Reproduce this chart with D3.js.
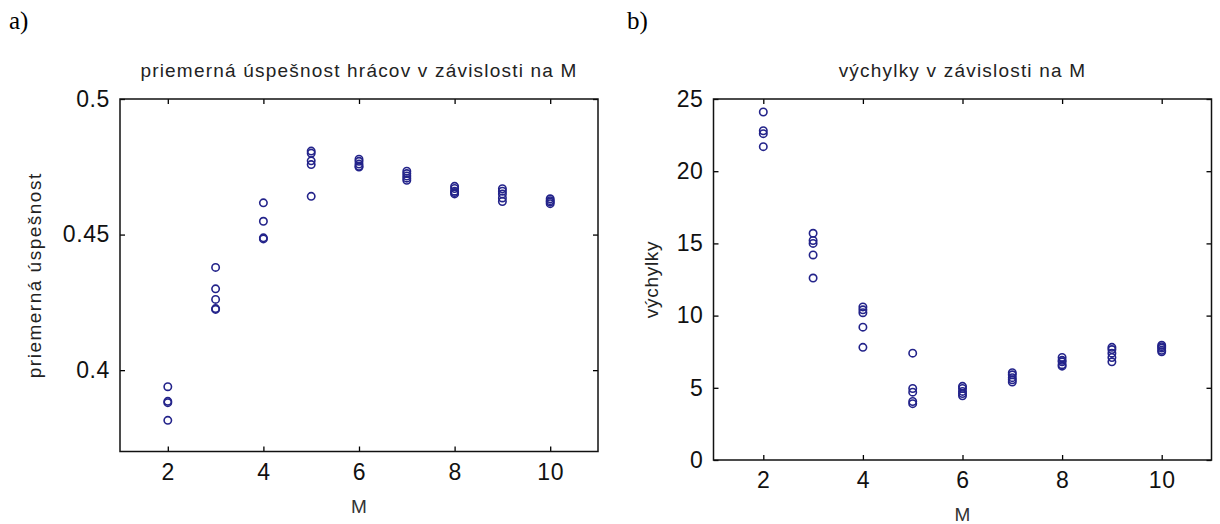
<!DOCTYPE html>
<html>
<head>
<meta charset="utf-8">
<script src="https://cdn.jsdelivr.net/npm/d3@7"></script>
<style>
  body { margin: 0; background: #fff; }
  svg { display: block; }
  text { font-family: "Liberation Sans", Arial, sans-serif; }
</style>
</head>
<body>
<script>
// M values on the x axis
const mValues = [2, 3, 4, 5, 6, 7, 8, 9, 10];

// a) average success rate of players, several runs per M
const successM = [
  [0.3939, 0.3885, 0.3880, 0.3815],
  [0.4379, 0.4300, 0.4261, 0.4227, 0.4224],
  [0.4617, 0.4549, 0.4488, 0.4484],
  [0.4808, 0.4800, 0.4772, 0.4758, 0.4641],
  [0.4778, 0.4770, 0.4760, 0.4752, 0.4749],
  [0.4734, 0.4725, 0.4716, 0.4708, 0.4700],
  [0.4678, 0.4670, 0.4660, 0.4655, 0.4650],
  [0.4669, 0.4660, 0.4650, 0.4635, 0.4622],
  [0.4632, 0.4625, 0.4620, 0.4614]
];

// b) deviations, several runs per M
const deviationM = [
  [24.1, 22.8, 22.6, 21.7],
  [15.7, 15.2, 15.0, 14.2, 12.6],
  [10.6, 10.4, 10.2, 9.2, 7.8],
  [7.4, 4.95, 4.7, 4.05, 3.9],
  [5.1, 4.95, 4.75, 4.6, 4.45],
  [6.05, 5.9, 5.7, 5.55, 5.4],
  [7.1, 6.9, 6.8, 6.6, 6.5],
  [7.8, 7.65, 7.4, 7.1, 6.8],
  [7.95, 7.85, 7.75, 7.6, 7.5]
];

const xTicks = [2, 4, 6, 8, 10];
const successTicks = [0.4, 0.45, 0.5];
const deviationTicks = [0, 5, 10, 15, 20, 25];

let width = 1220,
    height = 524;

let svg = d3.select("body").append("svg")
    .attr("width", width)
    .attr("height", height);

let markColor = "#23238a";

// draws one matlab-like panel with a box and inward ticks
let drawPanel = function(p) {
  let x = d3.scaleLinear().domain([1, 11]).range([p.left, p.right]);
  let y = d3.scaleLinear().domain(p.yDomain).range([p.bottom, p.top]);

  let g = svg.append("g");

  let points = [];
  mValues.forEach(function(m, i) {
    p.values[i].forEach(function(v) { points.push({m: m, v: v}); });
  });

  g.selectAll("circle")
    .data(points)
    .enter().append("circle")
    .attr("cx", d => x(d.m))
    .attr("cy", d => y(d.v))
    .attr("r", 3.7)
    .attr("fill", "none")
    .attr("stroke", markColor)
    .attr("stroke-width", 1.6);

  let tl = 5;
  let axisStyle = function(sel) {
    sel.select(".domain").remove();
    sel.selectAll("line").attr("stroke", "#000").attr("stroke-width", 1.3);
  };

  // bottom axis, ticks inward
  g.append("g")
    .attr("transform", "translate(0," + p.bottom + ")")
    .call(d3.axisBottom(x).tickValues(xTicks).tickSize(-tl).tickPadding(12))
    .call(axisStyle)
    .selectAll("text")
      .attr("font-size", 23)
      .attr("letter-spacing", 0.6)
      .attr("fill", "#111");

  g.append("g")
    .attr("transform", "translate(0," + p.top + ")")
    .call(d3.axisTop(x).tickValues(xTicks).tickSize(-tl).tickFormat(""))
    .call(axisStyle);

  g.append("g")
    .attr("transform", "translate(" + p.left + ",0)")
    .call(d3.axisLeft(y).tickValues(p.yTicks).tickSize(-tl).tickPadding(10).tickFormat(p.fmt))
    .call(axisStyle)
    .selectAll("text")
      .attr("font-size", 23)
      .attr("letter-spacing", 0.6)
      .attr("fill", "#111");

  g.append("g")
    .attr("transform", "translate(" + p.right + ",0)")
    .call(d3.axisRight(y).tickValues(p.yTicks).tickSize(-tl).tickFormat(""))
    .call(axisStyle);

  g.append("rect")
    .attr("x", p.left)
    .attr("y", p.top)
    .attr("width", p.right - p.left)
    .attr("height", p.bottom - p.top)
    .attr("fill", "none")
    .attr("stroke", "#111")
    .attr("stroke-width", 1.5);

  let cx = (p.left + p.right) / 2;

  g.append("text")
    .attr("x", cx)
    .attr("y", 77)
    .attr("text-anchor", "middle")
    .attr("font-size", 19)
    .attr("letter-spacing", 1.2)
    .attr("fill", "#222")
    .text(p.title);

  g.append("text")
    .attr("x", cx)
    .attr("y", p.bottom + 61)
    .attr("text-anchor", "middle")
    .attr("font-size", 19)
    .attr("fill", "#333")
    .text("M");

  g.append("text")
    .attr("transform", "translate(" + p.labelX + "," + ((p.top + p.bottom) / 2) + ")rotate(-90)")
    .attr("text-anchor", "middle")
    .attr("dy", "0.35em")
    .attr("font-size", 19)
    .attr("letter-spacing", p.labelSpacing)
    .attr("fill", "#222")
    .text(p.yLabel);

  svg.append("text")
    .attr("x", p.tagX)
    .attr("y", 29)
    .style("font-family", "'Liberation Serif', 'Times New Roman', serif")
    .attr("font-size", 25)
    .attr("fill", "#000")
    .text(p.tag);
};

drawPanel({
  left: 120, right: 598, top: 99, bottom: 451.5,
  yDomain: [0.37, 0.5],
  yTicks: successTicks,
  fmt: d => String(d),
  values: successM,
  title: "priemerná úspešnost hrácov v závislosti na M",
  yLabel: "priemerná úspešnost",
  labelSpacing: 1.5,
  labelX: 34,
  tag: "a)",
  tagX: 9
});

drawPanel({
  left: 713.5, right: 1211.5, top: 99, bottom: 460,
  yDomain: [0, 25],
  yTicks: deviationTicks,
  fmt: d => String(d),
  values: deviationM,
  title: "výchylky v závislosti na M",
  yLabel: "výchylky",
  labelSpacing: 0.7,
  labelX: 651,
  tag: "b)",
  tagX: 627
});
</script>
</body>
</html>
